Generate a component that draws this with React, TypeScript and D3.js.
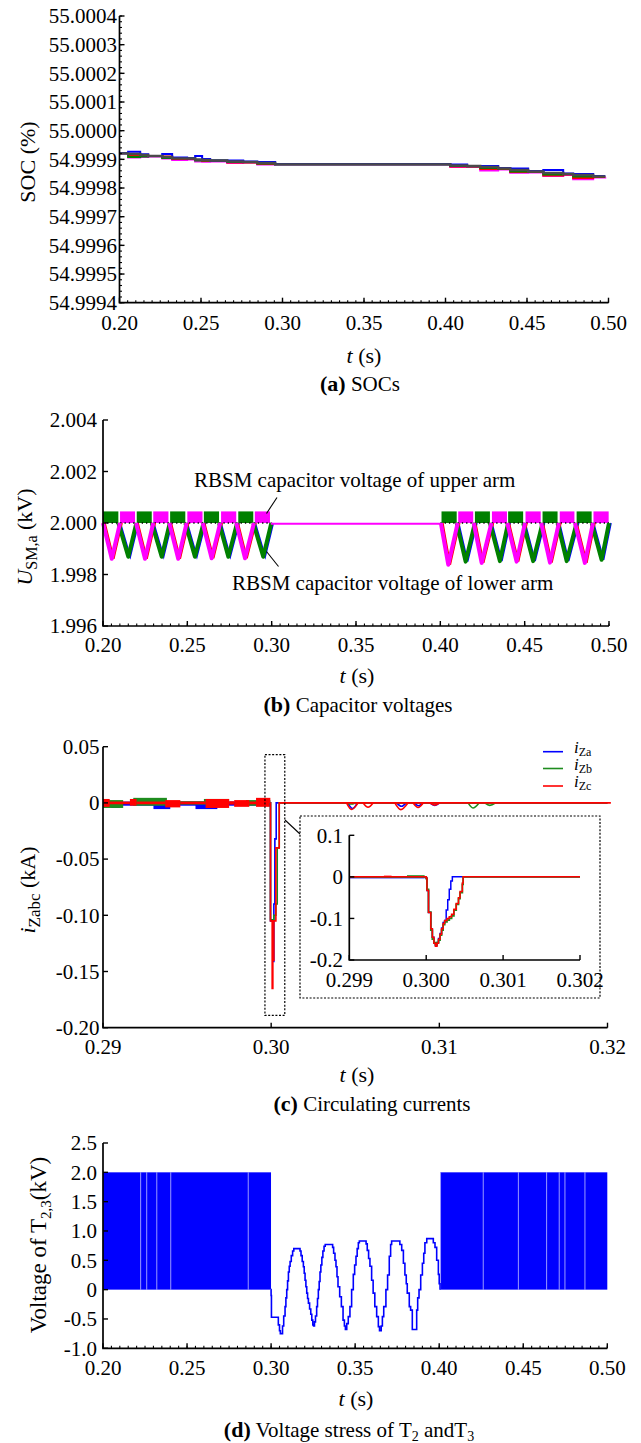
import React from 'react';
import * as d3 from 'd3';

const SERIF = '"Liberation Serif", "Times New Roman", Times, serif';

// ---------------- (a) SOCs ----------------
const socT = [0.2000, 0.2053, 0.2127, 0.2176, 0.2262, 0.2323, 0.2415, 0.2464, 0.2507, 0.2556, 0.2661, 0.2759, 0.2845, 0.2955, 0.4029, 0.4133, 0.4213, 0.4323, 0.4397, 0.4507, 0.4600, 0.4722, 0.4783, 0.4906, 0.4980];
const socBlue = [54.9999209, 54.9999265, 54.9999174, 54.9999115, 54.9999185, 54.9999063, 54.9999035, 54.9999115, 54.999901, 54.9998958, 54.9998958, 54.9998923, 54.9998906, 54.9998826, 54.9998819, 54.9998766, 54.9998766, 54.9998697, 54.9998679, 54.9998592, 54.9998627, 54.9998505, 54.9998487, 54.9998418, 54.9998418];
const socGray = [54.9999209, 54.9999185, 54.999915, 54.9999115, 54.999908, 54.9999035, 54.9999035, 54.9998993, 54.9998976, 54.9998958, 54.9998923, 54.9998906, 54.9998871, 54.9998826, 54.9998784, 54.9998766, 54.9998731, 54.9998686, 54.9998627, 54.9998574, 54.9998522, 54.9998487, 54.9998452, 54.9998407, 54.9998407];
const socGreen = [54.9999209, 54.999908, 54.9999098, 54.9999115, 54.9999045, 54.9999035, 54.9999035, 54.9998958, 54.9998958, 54.9998958, 54.9998906, 54.9998906, 54.9998854, 54.9998826, 54.9998766, 54.9998756, 54.9998697, 54.9998679, 54.9998574, 54.9998574, 54.999847, 54.9998487, 54.99984, 54.99984, 54.99984];
const socRed = [54.9999209, 54.9999133, 54.9999115, 54.9999115, 54.9999098, 54.999901, 54.999901, 54.9998976, 54.9998941, 54.9998941, 54.9998888, 54.9998888, 54.9998836, 54.9998826, 54.9998749, 54.9998749, 54.9998662, 54.9998662, 54.9998557, 54.9998557, 54.9998435, 54.999847, 54.9998348, 54.9998383, 54.9998383];
const socMagenta = [54.9999209, 54.9999063, 54.999908, 54.9999098, 54.9999028, 54.9998976, 54.9998993, 54.9998923, 54.9998916, 54.9998923, 54.9998871, 54.9998888, 54.9998819, 54.9998826, 54.9998731, 54.9998731, 54.9998609, 54.9998644, 54.9998533, 54.999854, 54.9998418, 54.9998452, 54.9998302, 54.9998365, 54.9998372];
const socYTicks = [54.9994, 54.9995, 54.9996, 54.9997, 54.9998, 54.9999, 55.0000, 55.0001, 55.0002, 55.0003, 55.0004];
const tTicks = [0.20, 0.25, 0.30, 0.35, 0.40, 0.45, 0.50];

// ---------------- (b) Capacitor voltages ----------------
const capYTicks = [1.996, 1.998, 2.000, 2.002, 2.004];
const capBlockTop = 2.00045;
const capFlat = 1.99997;
const greenBlocks = [[0.2000, 0.2091], [0.2200, 0.2289], [0.2398, 0.2488], [0.2598, 0.2688], [0.2802, 0.2891], [0.4007, 0.4097], [0.4205, 0.4294], [0.4402, 0.4491], [0.4606, 0.4695], [0.4808, 0.4897]];
const magentaBlocks = [[0.2101, 0.2190], [0.2298, 0.2388], [0.2500, 0.2590], [0.2700, 0.2790], [0.2900, 0.2990], [0.4106, 0.4195], [0.4306, 0.4395], [0.4505, 0.4595], [0.4708, 0.4795], [0.4908, 0.4998]];
// [start, time of minimum, minimum value, end]
const greenDips = [[0.2091, 0.2150, 1.99869, 0.2198], [0.2289, 0.2348, 1.99869, 0.2396], [0.2488, 0.2545, 1.99869, 0.2596], [0.2688, 0.2743, 1.99869, 0.2795], [0.2891, 0.2950, 1.99869, 0.2998], [0.4097, 0.4150, 1.99850, 0.4205], [0.4294, 0.4353, 1.99852, 0.4402], [0.4491, 0.4550, 1.99852, 0.4606], [0.4695, 0.4749, 1.99852, 0.4808], [0.4897, 0.4956, 1.99857, 0.5000]];
const magentaDips = [[0.2000, 0.2052, 1.99861, 0.2101], [0.2196, 0.2249, 1.99861, 0.2298], [0.2393, 0.2446, 1.99861, 0.2496], [0.2591, 0.2644, 1.99863, 0.2695], [0.2790, 0.2842, 1.99863, 0.2895], [0.4003, 0.4047, 1.99838, 0.4103], [0.4198, 0.4245, 1.99845, 0.4303], [0.4397, 0.4452, 1.99850, 0.4502], [0.4598, 0.4650, 1.99846, 0.4703], [0.4798, 0.4857, 1.99845, 0.4905]];

// ---------------- (c) Circulating currents ----------------
const cXTicks = [0.29, 0.30, 0.31, 0.32];
const cYTicks = [0.05, 0, -0.05, -0.10, -0.15, -0.20];
const cYLabels = ['0.05', '0', '-0.05', '-0.10', '-0.15', '-0.20'];
// noise bands [t0, t1, low, high]
const cRedNoise = [[0.2900, 0.2904, -0.0035, 0.0035], [0.2904, 0.2916, -0.0012, 0.0012], [0.2916, 0.2920, -0.0025, 0.0035], [0.2920, 0.2937, -0.0012, 0.0012], [0.2937, 0.2946, -0.004, 0.0025], [0.2946, 0.2961, -0.0012, 0.0012], [0.2961, 0.2975, -0.0045, 0.0035], [0.2975, 0.2978, -0.0015, 0.0015], [0.2978, 0.2987, -0.0035, 0.0025], [0.2987, 0.2991, -0.0012, 0.0012], [0.2991, 0.29995, -0.0035, 0.0045]];
const cGreenNoise = [[0.2900, 0.2912, -0.0045, 0.0025], [0.2918, 0.2938, -0.0025, 0.0045], [0.2945, 0.2960, -0.0015, 0.0015], [0.2960, 0.2975, -0.0015, 0.0035], [0.2985, 0.29995, -0.0025, 0.0025]];
const cBlueNoise = [[0.2900, 0.29995, -0.0025, 0.0012], [0.2905, 0.2910, -0.0045, 0], [0.2930, 0.2940, -0.0055, 0], [0.2955, 0.2968, -0.0055, 0]];
const cBlue = [[0.29995, 0], [0.29996, -0.105], [0.3001, -0.141], [0.30016, -0.09], [0.30022, -0.032], [0.3003, 0], [0.3200, 0]];
const cGreen = [[0.29995, 0], [0.29996, -0.104], [0.30016, -0.100], [0.30028, -0.090], [0.30036, -0.040], [0.30048, 0], [0.3200, 0]];
const cRed = [[0.29995, 0], [0.29996, -0.105], [0.30006, -0.165], [0.3001, -0.140], [0.30016, -0.105], [0.30028, -0.040], [0.30048, 0], [0.3202, 0]];
// small dips after the fault [t0, tmin, vmin, t1]
const cRedDips = [[0.30448, 0.30478, -0.0059, 0.30517], [0.30547, 0.30576, -0.0038, 0.30606], [0.30735, 0.30771, -0.0060, 0.30814], [0.30844, 0.30874, -0.0040, 0.30904], [0.30943, 0.30973, -0.0020, 0.31002]];
const cBlueDips = [[0.30455, 0.30485, -0.0050, 0.30512], [0.30745, 0.30775, -0.0030, 0.30804], [0.30850, 0.30876, -0.0025, 0.30904], [0.30943, 0.30973, -0.0022, 0.31002]];
const cGreenDips = [[0.31171, 0.31200, -0.0045, 0.31236], [0.31270, 0.31300, -0.0022, 0.31335], [0.30450, 0.30475, -0.0010, 0.30500]];
// inset
const iXTicks = [0.299, 0.300, 0.301, 0.302];
const iXLabels = ['0.299', '0.300', '0.301', '0.302'];
const iYTicks = [0.1, 0, -0.1, -0.2];
const iYLabels = ['0.1', '0', '-0.1', '-0.2'];
const iRedNoise = [[0.2990, 0.2997, -0.002, 0.0008], [0.29945, 0.29955, -0.001, 0.003], [0.2997, 0.29998, -0.002, 0.002]];
const iGreenNoise = [[0.29975, 0.29998, -0.001, 0.004]];
const iBlueNoise = [[0.2990, 0.29998, -0.0025, 0]];
const iRed = [[0.2990, 0], [0.30000, -0.003], [0.30001, -0.033], [0.30003, -0.086], [0.30006, -0.125], [0.30008, -0.145], [0.30010, -0.160], [0.30012, -0.167], [0.30014, -0.160], [0.30016, -0.150], [0.30018, -0.138], [0.30020, -0.125], [0.30022, -0.112], [0.30024, -0.105], [0.30027, -0.100], [0.30030, -0.096], [0.30033, -0.090], [0.30036, -0.078], [0.30039, -0.064], [0.30042, -0.050], [0.30044, -0.035], [0.30047, -0.015], [0.30048, 0], [0.3020, 0]];
const iGreen = [[0.2990, 0], [0.30000, -0.004], [0.30001, -0.030], [0.30003, -0.085], [0.30006, -0.128], [0.30008, -0.150], [0.30010, -0.158], [0.30012, -0.163], [0.30014, -0.158], [0.30016, -0.152], [0.30018, -0.140], [0.30020, -0.128], [0.30022, -0.115], [0.30024, -0.108], [0.30027, -0.104], [0.30030, -0.100], [0.30033, -0.094], [0.30036, -0.080], [0.30039, -0.066], [0.30042, -0.052], [0.30044, -0.038], [0.30047, -0.018], [0.30048, 0], [0.3020, 0]];
const iBlue = [[0.2990, 0], [0.30000, -0.003], [0.30001, -0.033], [0.30003, -0.086], [0.30006, -0.125], [0.30008, -0.145], [0.30010, -0.160], [0.30012, -0.165], [0.30014, -0.158], [0.30016, -0.148], [0.30018, -0.136], [0.30020, -0.123], [0.30022, -0.110], [0.30024, -0.105], [0.30026, -0.080], [0.30028, -0.055], [0.30030, -0.030], [0.30032, -0.010], [0.30034, 0], [0.3020, 0]];
const zoomBox = { t0: 0.29963, t1: 0.30081, v0: -0.189, v1: 0.043 };
const legendItems = [['Za', '#0000ff'], ['Zb', '#1e8c1e'], ['Zc', '#ff0000']];

// ---------------- (d) Voltage stress ----------------
const dYTicks = [2.5, 2.0, 1.5, 1.0, 0.5, 0, -0.5, -1.0];
const dYLabels = ['2.5', '2.0', '1.5', '1.0', '0.5', '0', '-0.5', '-1.0'];
const dBlocks = [[0.2000, 0.29995], [0.4005, 0.5000]];
const dBlockHigh = 2.0;
const dGaps = [0.2224, 0.2260, 0.2320, 0.2403, 0.2864, 0.4008, 0.4262, 0.4471, 0.4639, 0.4714, 0.4748, 0.4867];
const dWave = [[0.29995, 0], [0.3000, -0.10], [0.3002, -0.47], [0.3043, -0.60], [0.3050, -0.70], [0.3055, -0.75], [0.3068, -0.62], [0.3075, -0.45], [0.3083, -0.29], [0.3088, -0.14], [0.3093, 0.00], [0.3098, 0.15], [0.3103, 0.30], [0.3108, 0.40], [0.3113, 0.48], [0.3120, 0.58], [0.3128, 0.66], [0.3135, 0.70], [0.3172, 0.66], [0.3178, 0.58], [0.3185, 0.48], [0.3192, 0.39], [0.3197, 0.28], [0.3202, 0.16], [0.3207, 0.05], [0.3212, -0.06], [0.3217, -0.15], [0.3222, -0.23], [0.3229, -0.33], [0.3236, -0.42], [0.3242, -0.52], [0.3248, -0.60], [0.3253, -0.62], [0.3258, -0.55], [0.3264, -0.45], [0.3271, -0.29], [0.3276, -0.15], [0.3281, 0.00], [0.3286, 0.14], [0.3291, 0.30], [0.3296, 0.42], [0.3302, 0.55], [0.3308, 0.66], [0.3315, 0.74], [0.3322, 0.77], [0.3366, 0.72], [0.3372, 0.62], [0.3380, 0.50], [0.3386, 0.39], [0.3392, 0.22], [0.3398, 0.05], [0.3408, -0.12], [0.3418, -0.29], [0.3428, -0.52], [0.3436, -0.62], [0.3442, -0.68], [0.3450, -0.58], [0.3459, -0.46], [0.3469, -0.29], [0.3479, 0.00], [0.3489, 0.26], [0.3497, 0.42], [0.3505, 0.57], [0.3512, 0.70], [0.3519, 0.80], [0.3525, 0.83], [0.3565, 0.78], [0.3572, 0.67], [0.3580, 0.53], [0.3588, 0.40], [0.3598, 0.16], [0.3607, -0.06], [0.3617, -0.29], [0.3628, -0.46], [0.3638, -0.63], [0.3645, -0.70], [0.3655, -0.62], [0.3662, -0.46], [0.3670, -0.29], [0.3683, 0.00], [0.3693, 0.25], [0.3703, 0.57], [0.3711, 0.77], [0.3717, 0.83], [0.3766, 0.77], [0.3777, 0.67], [0.3787, 0.45], [0.3796, 0.25], [0.3804, 0.10], [0.3810, -0.06], [0.3822, -0.29], [0.3830, -0.35], [0.3840, -0.68], [0.3866, -0.35], [0.3872, -0.14], [0.3880, 0.00], [0.3890, 0.25], [0.3900, 0.45], [0.3908, 0.62], [0.3915, 0.80], [0.3926, 0.87], [0.3965, 0.80], [0.3975, 0.72], [0.3985, 0.50], [0.3995, 0.26], [0.4000, 0.10], [0.4005, 0.00]];

// ---------------- helpers ----------------
const lineOf = (xs, ys, curve) => d3.line().x((d) => xs(d[0])).y((d) => ys(d[1])).curve(curve);

function Axes({ xs, ys, xTicks, xLabels, yTicks, yLabels, xMinor = [], yMinor = [], xLabelY, yLabelRight, fs = 21 }) {
  const [x0, x1] = xs.range();
  const [yb, yt] = ys.range();
  return (
    <g>
      <g stroke="#000" strokeWidth={1.1}>
        {xMinor.map((v, i) => <line key={'xm' + i} x1={xs(v)} x2={xs(v)} y1={yb} y2={yb - 2.5} />)}
        {yMinor.map((v, i) => <line key={'ym' + i} x1={x0} x2={x0 + 2.5} y1={ys(v)} y2={ys(v)} />)}
      </g>
      <g stroke="#000" strokeWidth={1.4}>
        {xTicks.map((v, i) => <line key={'xt' + i} x1={xs(v)} x2={xs(v)} y1={yb} y2={yb - 5} />)}
        {yTicks.map((v, i) => <line key={'yt' + i} x1={x0} x2={x0 + 5} y1={ys(v)} y2={ys(v)} />)}
      </g>
      <path d={`M${x0},${yt}V${yb}H${x1}`} fill="none" stroke="#000" strokeWidth={1.7} />
      <g fontSize={fs} fill="#000">
        {xTicks.map((v, i) => (
          <text key={'xl' + i} x={xs(v)} y={xLabelY} dy="0.35em" textAnchor="middle">{xLabels[i]}</text>
        ))}
        {yTicks.map((v, i) => (
          <text key={'yl' + i} x={yLabelRight} y={ys(v)} dy="0.35em" textAnchor="end">{yLabels[i]}</text>
        ))}
      </g>
    </g>
  );
}

function TLabel({ x, y }) {
  return (
    <text x={x} y={y} dy="0.35em" textAnchor="middle" fontSize={22}>
      <tspan fontStyle="italic">t</tspan>{' (s)'}
    </text>
  );
}

const tMinor = d3.range(0.2, 0.50001, 0.005);
const tLabels = tTicks.map((v) => v.toFixed(2));

function PanelA() {
  const xs = d3.scaleLinear().domain([0.2, 0.5]).range([119.5, 608.5]);
  const ys = d3.scaleLinear().domain([54.9994, 55.0004]).range([302.7, 16]);
  const ln = lineOf(xs, ys, d3.curveStepAfter);
  const series = [[socMagenta, '#ff00ff'], [socRed, '#ff0000'], [socGreen, '#008000'], [socBlue, '#0000ff'], [socGray, '#4a4a4a']];
  return (
    <g>
      {series.map(([vals, col], k) => (
        <path key={k} d={ln(socT.map((t, i) => [t, vals[i]]))} fill="none" stroke={col} strokeWidth={k === 4 ? 2.4 : 2} />
      ))}
      <Axes xs={xs} ys={ys} xTicks={tTicks} xLabels={tLabels} yTicks={socYTicks}
        yLabels={socYTicks.map((v) => v.toFixed(4))} xMinor={tMinor}
        yMinor={d3.range(54.9994, 55.00041, 0.00002)} xLabelY={323} yLabelRight={117} />
      <text transform="translate(27,162) rotate(-90)" textAnchor="middle" dy="0.35em" fontSize={22}>SOC (%)</text>
      <TLabel x={364} y={355} />
      <text x={360} y={384} dy="0.35em" textAnchor="middle" fontSize={21}>
        <tspan fontWeight="bold" fontSize={22}>(a)</tspan>{' SOCs'}
      </text>
    </g>
  );
}

function PanelB() {
  const xs = d3.scaleLinear().domain([0.2, 0.5]).range([103, 609]);
  const ys = d3.scaleLinear().domain([1.996, 2.004]).range([626, 420]);
  const dip = lineOf(xs, ys, d3.curveLinear);
  const dipPts = (d) => [[d[0], 2.0], [d[1], d[2]], [d[3], 2.0]];
  return (
    <g>
      {greenBlocks.map((b, i) => (
        <rect key={'gb' + i} x={xs(b[0])} width={xs(b[1]) - xs(b[0])} y={ys(capBlockTop)} height={ys(2.0) - ys(capBlockTop)} fill="#008000" />
      ))}
      {magentaBlocks.map((b, i) => (
        <rect key={'mb' + i} x={xs(b[0])} width={xs(b[1]) - xs(b[0])} y={ys(capBlockTop)} height={ys(2.0) - ys(capBlockTop)} fill="#ff00ff" />
      ))}
      {[[0.2, 0.3], [0.4, 0.5]].map((r, i) => (
        <line key={'ref' + i} x1={xs(r[0])} x2={xs(r[1])} y1={ys(2.0)} y2={ys(2.0)} stroke="#000" strokeWidth={1.3} strokeDasharray="1.3 3" />
      ))}
      <g transform="translate(2,0)">
        {greenDips.map((d, i) => <path key={'bd' + i} d={dip(dipPts(d))} fill="none" stroke="#0000ff" strokeWidth={1.6} />)}
        {magentaDips.map((d, i) => <path key={'rd' + i} d={dip(dipPts(d))} fill="none" stroke="#ff0000" strokeWidth={1.6} />)}
      </g>
      {greenDips.map((d, i) => <path key={'gd' + i} d={dip(dipPts(d))} fill="none" stroke="#008000" strokeWidth={4} strokeLinejoin="round" />)}
      {magentaDips.map((d, i) => <path key={'md' + i} d={dip(dipPts(d))} fill="none" stroke="#ff00ff" strokeWidth={4} strokeLinejoin="round" />)}
      <line x1={xs(0.2995)} x2={xs(0.4004)} y1={ys(capFlat)} y2={ys(capFlat)} stroke="#ff00ff" strokeWidth={2} />
      <Axes xs={xs} ys={ys} xTicks={tTicks} xLabels={tLabels} yTicks={capYTicks}
        yLabels={capYTicks.map((v) => v.toFixed(3))} xMinor={tMinor} xLabelY={645} yLabelRight={97} />
      <g fontSize={21}>
        <text x={194} y={480} dy="0.35em">RBSM capacitor voltage of upper arm</text>
        <text x={232} y={583} dy="0.35em">RBSM capacitor voltage of lower arm</text>
      </g>
      <line x1={277} y1={497.5} x2={266.5} y2={513.5} stroke="#000" strokeWidth={1.1} />
      <line x1={266.5} y1={551.5} x2={278.5} y2={566.5} stroke="#000" strokeWidth={1.1} />
      <text transform="translate(24,537) rotate(-90)" textAnchor="middle" dy="0.35em" fontSize={22}>
        <tspan fontStyle="italic">U</tspan>
        <tspan fontSize={16} dy={5}>SM,a</tspan>
        <tspan dy={-5}>{' (kV)'}</tspan>
      </text>
      <TLabel x={357} y={675} />
      <text x={358} y={705} dy="0.35em" textAnchor="middle" fontSize={21}>
        <tspan fontWeight="bold" fontSize={22}>(b)</tspan>{' Capacitor voltages'}
      </text>
    </g>
  );
}

function Bands({ xs, ys, bands, color }) {
  return (
    <g fill={color}>
      {bands.map((b, i) => (
        <rect key={i} x={xs(b[0])} width={Math.max(0.5, xs(b[1]) - xs(b[0]))} y={ys(b[3])} height={Math.max(1.5, ys(b[2]) - ys(b[3]))} />
      ))}
    </g>
  );
}

function PanelC() {
  const xs = d3.scaleLinear().domain([0.29, 0.32]).range([103, 607.5]);
  const ys = d3.scaleLinear().domain([-0.2, 0.05]).range([1027.7, 746.7]);
  const step = lineOf(xs, ys, d3.curveStepAfter);
  const arc = lineOf(xs, ys, d3.curveMonotoneX);
  const dipPts = (d) => [[d[0], 0], [d[1], d[2]], [d[3], 0]];
  const ix = d3.scaleLinear().domain([0.299, 0.302]).range([349.3, 580]);
  const iy = d3.scaleLinear().domain([-0.2, 0.1]).range([960, 835.3]);
  const istep = lineOf(ix, iy, d3.curveStepAfter);
  return (
    <g>
      <line x1={xs(0.29)} x2={xs(0.29995)} y1={ys(0)} y2={ys(0)} stroke="#ff0000" strokeWidth={1.5} />
      <Bands xs={xs} ys={ys} bands={cBlueNoise} color="#0000ff" />
      <Bands xs={xs} ys={ys} bands={cGreenNoise} color="#1e8c1e" />
      <Bands xs={xs} ys={ys} bands={cRedNoise} color="#ff0000" />
      <path d={step(cBlue)} fill="none" stroke="#0000ff" strokeWidth={1.6} />
      {cBlueDips.map((d, i) => <path key={'b' + i} d={arc(dipPts(d))} fill="none" stroke="#0000ff" strokeWidth={1.6} />)}
      <path d={step(cGreen)} fill="none" stroke="#1e8c1e" strokeWidth={1.6} />
      {cGreenDips.map((d, i) => <path key={'g' + i} d={arc(dipPts(d))} fill="none" stroke="#1e8c1e" strokeWidth={1.6} />)}
      <path d={step(cRed)} fill="none" stroke="#ff0000" strokeWidth={1.6} />
      {cRedDips.map((d, i) => <path key={'r' + i} d={arc(dipPts(d))} fill="none" stroke="#ff0000" strokeWidth={1.6} />)}
      <Axes xs={xs} ys={ys} xTicks={cXTicks} xLabels={cXTicks.map((v) => v.toFixed(2))} yTicks={cYTicks}
        yLabels={cYLabels} xLabelY={1047} yLabelRight={99.5} />
      {/* zoom box */}
      <rect x={xs(zoomBox.t0)} y={ys(zoomBox.v1)} width={xs(zoomBox.t1) - xs(zoomBox.t0)} height={ys(zoomBox.v0) - ys(zoomBox.v1)}
        fill="none" stroke="#000" strokeWidth={1.2} strokeDasharray="2 1.6" />
      <line x1={285} y1={820} x2={300} y2={834} stroke="#000" strokeWidth={1.1} />
      {/* inset */}
      <rect x={300} y={816} width={300} height={182} fill="#fff" stroke="#000" strokeWidth={1.2} strokeDasharray="2 1.6" />
      <Bands xs={ix} ys={iy} bands={iBlueNoise} color="#0000ff" />
      <Bands xs={ix} ys={iy} bands={iGreenNoise} color="#1e8c1e" />
      <Bands xs={ix} ys={iy} bands={iRedNoise} color="#ff0000" />
      <path d={istep(iBlue)} fill="none" stroke="#0000ff" strokeWidth={1.5} />
      <path d={istep(iGreen)} fill="none" stroke="#1e8c1e" strokeWidth={1.8} />
      <path d={istep(iRed)} fill="none" stroke="#ff0000" strokeWidth={1.5} />
      <Axes xs={ix} ys={iy} xTicks={iXTicks} xLabels={iXLabels} yTicks={iYTicks} yLabels={iYLabels}
        xLabelY={980} yLabelRight={343} />
      {/* legend */}
      {legendItems.map(([sub, col], i) => {
        const y = [751.7, 768.5, 786][i];
        return (
          <g key={'lg' + i}>
            <line x1={543} x2={563} y1={y} y2={y} stroke={col} strokeWidth={1.6} />
            <text x={574} y={y + 1} fontSize={15}>
              <tspan fontStyle="italic" fontSize={17}>i</tspan>
              <tspan fontSize={12} dy={3}>{sub}</tspan>
            </text>
          </g>
        );
      })}
      <text transform="translate(27,890) rotate(-90)" textAnchor="middle" dy="0.35em" fontSize={22}>
        <tspan fontStyle="italic">i</tspan>
        <tspan fontSize={17} dy={5}>Zabc</tspan>
        <tspan dy={-5}>{' (kA)'}</tspan>
      </text>
      <TLabel x={357} y={1074} />
      <text x={372} y={1104} dy="0.35em" textAnchor="middle" fontSize={21}>
        <tspan fontWeight="bold" fontSize={22}>(c)</tspan>{' Circulating currents'}
      </text>
    </g>
  );
}

function PanelD() {
  const xs = d3.scaleLinear().domain([0.2, 0.5]).range([103, 607.3]);
  const ys = d3.scaleLinear().domain([-1, 2.5]).range([1348.3, 1143]);
  const step = lineOf(xs, ys, d3.curveStepAfter);
  return (
    <g>
      {dBlocks.map((b, i) => (
        <rect key={'db' + i} x={xs(b[0])} width={xs(b[1]) - xs(b[0])} y={ys(dBlockHigh)} height={ys(0) - ys(dBlockHigh)} fill="#0000ff" />
      ))}
      {dGaps.map((t, i) => (
        <line key={'dg' + i} x1={xs(t)} x2={xs(t)} y1={ys(dBlockHigh)} y2={ys(0)} stroke="#ffffff" strokeOpacity={0.6} strokeWidth={1} />
      ))}
      <path d={step(dWave)} fill="none" stroke="#0000ff" strokeWidth={1.6} />
      <Axes xs={xs} ys={ys} xTicks={tTicks} xLabels={tLabels} yTicks={dYTicks} yLabels={dYLabels}
        xMinor={tMinor} xLabelY={1368} yLabelRight={97} />
      <text transform="translate(38,1245) rotate(-90)" textAnchor="middle" dy="0.35em" fontSize={23}>
        {'Voltage of T'}
        <tspan fontSize={15} dy={5}>2,3</tspan>
        <tspan dy={-5}>(kV)</tspan>
      </text>
      <TLabel x={356} y={1398} />
      <text x={349} y={1430} dy="0.35em" textAnchor="middle" fontSize={21}>
        <tspan fontWeight="bold" fontSize={22}>(d)</tspan>{' Voltage stress of T'}
        <tspan fontSize={14} dy={4}>2</tspan>
        <tspan dy={-4}>{' andT'}</tspan>
        <tspan fontSize={14} dy={4}>3</tspan>
      </text>
    </g>
  );
}

export default function App() {
  return (
    <svg width={641} height={1443} style={{ position: 'absolute', left: 0, top: 0, display: 'block', fontFamily: SERIF }}>
      <rect width={641} height={1443} fill="#ffffff" />
      <PanelA />
      <PanelB />
      <PanelC />
      <PanelD />
    </svg>
  );
}
